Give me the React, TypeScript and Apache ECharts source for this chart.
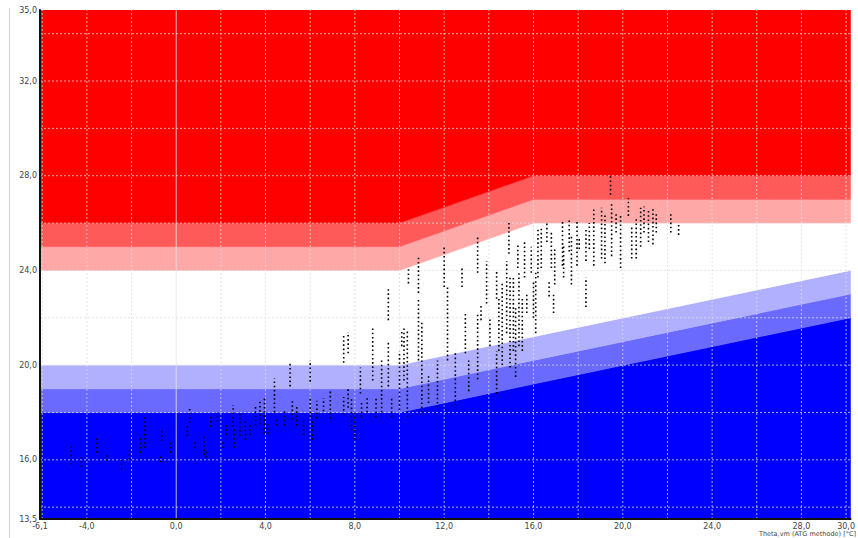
import React, { useEffect, useRef } from 'react';
import * as echarts from 'echarts';

const X_MIN = -6.1;
const X_MAX = 30.2;
const Y_MIN = 13.5;
const Y_MAX = 35;

const xLabelValues = [-6.1, -4, 0, 4, 8, 12, 16, 20, 24, 28, 30];
const yLabelValues = [13.5, 16, 20, 24, 28, 32, 35];
const xGridValues = [-6, -4, -2, 0, 2, 4, 6, 8, 10, 12, 14, 16, 18, 20, 22, 24, 26, 28, 30];
const yGridValues = [14, 16, 18, 20, 22, 24, 26, 28, 30, 32, 34];

const axisTitle = 'Theta,vm (ATG methode) [°C]';

// breakpoints of the comfort bands along x
const bandBreaksX = [-6.1, 10, 16, 30.2];
// edges of bands (bottom to top), y value at each breakpoint
const edgeBottom = [13.5, 13.5, 13.5, 13.5];
const edgeBlue1 = [18, 18, 19.2, 22];
const edgeBlue2 = [19, 19, 20.2, 23];
const edgeBlue3 = [20, 20, 21.2, 24];
const edgeRed1 = [24, 24, 26, 26];
const edgeRed2 = [25, 25, 27, 27];
const edgeRed3 = [26, 26, 28, 28];
const edgeTop = [35, 35, 35, 35];
const bandEdges = [edgeBottom, edgeBlue1, edgeBlue2, edgeBlue3, edgeRed1, edgeRed2, edgeRed3, edgeTop];
const bandColors = ['#0000ff', '#6a6aff', '#b0b0ff', '#ffffff', '#ffa8a8', '#ff5a5a', '#ff0000'];

// measured point strips: [x, yLow, yHigh]
const strips: number[][] = [
  [-4.7, 15.8, 16.7], [-4.25, 15.7, 16.2], [-3.55, 16.3, 16.9], [-3.1, 15.95, 16.3],
  [-2.45, 15.6, 16.0], [-2.1, 16.0, 16.4], [-1.6, 16.3, 16.9], [-1.4, 16.5, 17.8],
  [-0.7, 15.9, 16.2], [-0.65, 16.8, 17.3], [-0.25, 16.3, 16.8], [0.5, 17.0, 17.5],
  [0.6, 17.55, 18.2], [0.85, 16.5, 16.8], [1.25, 16.2, 17.0], [1.35, 16.1, 16.4],
  [1.55, 17.4, 17.9], [1.85, 17.6, 18.0], [2.1, 16.5, 16.75], [2.25, 17.05, 17.5],
  [2.55, 17.4, 18.3], [2.6, 16.5, 17.3], [2.85, 17.0, 18.0], [3.1, 16.85, 17.65],
  [3.3, 17.05, 17.55], [3.55, 17.45, 18.3], [3.75, 17.5, 18.45], [3.95, 17.1, 18.6],
  [4.1, 17.1, 17.5], [4.4, 18.0, 19.45], [4.5, 17.45, 17.7], [4.85, 17.45, 18.05],
  [5.1, 19.1, 20.1], [5.2, 17.7, 18.5], [5.4, 17.45, 18.3], [5.7, 17.05, 17.7],
  [6.0, 19.3, 20.2], [6.0, 17.8, 18.65], [6.1, 16.85, 17.7], [6.3, 17.75, 18.5],
  [6.6, 18.05, 18.6], [6.9, 17.75, 18.9], [7.5, 20.1, 21.35], [7.5, 17.9, 18.65],
  [7.7, 20.5, 21.4], [7.7, 18.2, 19.05], [7.85, 17.25, 18.65], [8.0, 16.85, 18.0],
  [8.25, 18.8, 19.9], [8.3, 17.8, 18.5], [8.55, 18.0, 18.6], [8.8, 19.35, 21.6],
  [8.95, 17.8, 18.65], [9.2, 18.0, 20.2], [9.5, 19.1, 21.05], [9.5, 21.9, 23.3],
  [9.65, 17.8, 18.65], [10.0, 18.1, 20.6], [10.1, 20.8, 21.5], [10.2, 19.35, 21.6],
  [10.35, 17.8, 21.5], [10.4, 23.45, 24.1], [10.85, 23.05, 24.55], [10.85, 20.2, 22.75],
  [11.0, 18.0, 21.9], [11.3, 18.4, 19.6], [11.7, 18.2, 20.2], [12.0, 23.3, 25.0],
  [12.15, 20.2, 23.3], [12.5, 18.3, 20.5], [12.8, 23.3, 24.1], [12.95, 20.5, 22.2],
  [13.1, 18.9, 20.2], [13.5, 23.9, 25.4], [13.5, 19.4, 22.2], [13.65, 21.9, 22.6],
  [13.9, 22.6, 24.4], [14.05, 20.8, 22.0], [14.35, 18.8, 20.6], [14.35, 22.8, 24.0],
  [14.45, 20.6, 22.8], [14.6, 20.0, 23.5], [14.8, 21.35, 24.4], [14.9, 24.7, 26.0],
  [14.95, 19.9, 23.8], [15.1, 20.6, 23.7], [15.2, 19.5, 22.5], [15.3, 24.1, 25.15],
  [15.35, 20.8, 23.9], [15.5, 20.6, 22.8], [15.6, 23.7, 25.3], [15.7, 22.2, 23.0],
  [15.9, 23.9, 25.0], [16.0, 22.0, 23.5], [16.1, 21.35, 23.9], [16.2, 23.7, 25.8],
  [16.35, 24.1, 25.8], [16.6, 25.2, 26.05], [16.7, 22.9, 23.6], [16.8, 24.1, 25.7],
  [16.9, 22.2, 23.0], [16.95, 23.4, 25.0], [17.3, 24.2, 26.05], [17.35, 23.7, 25.1],
  [17.6, 24.8, 26.2], [17.7, 23.4, 25.5], [17.95, 24.2, 26.05], [18.05, 24.9, 25.4],
  [18.35, 22.45, 23.7], [18.35, 24.4, 25.8], [18.5, 24.9, 26.0], [18.7, 24.2, 26.65],
  [19.05, 24.5, 26.65], [19.2, 24.3, 26.4], [19.45, 27.2, 28.0], [19.5, 24.6, 26.8],
  [19.7, 25.6, 26.4], [19.9, 24.1, 26.3], [20.25, 26.3, 27.05], [20.4, 24.5, 25.9],
  [20.6, 24.5, 26.25], [20.8, 25.0, 26.65], [20.95, 25.6, 26.7], [21.15, 25.2, 26.6],
  [21.35, 25.1, 26.6], [21.5, 25.6, 26.4], [22.15, 25.6, 26.4], [22.5, 25.5, 26.0],
];

const fmt = (v: number) => v.toFixed(1).replace('.', ',');

export default function App() {
  const ref = useRef<HTMLDivElement>(null);
  useEffect(() => {
    if (!ref.current) return;
    const chart = echarts.init(ref.current, undefined, { renderer: 'svg' });
    const gridData = [
      ...xGridValues.map((v) => [0, v]),
      ...yGridValues.map((v) => [1, v]),
    ];
    const labelStyle = {
      fontFamily: 'DejaVu Sans',
      fontSize: 8,
      color: '#444',
    };
    chart.setOption({
      animation: false,
      backgroundColor: '#ffffff',
      grid: { left: 40, right: 0, top: 10, bottom: 19 },
      xAxis: {
        type: 'value',
        min: X_MIN,
        max: X_MAX,
        axisLine: { show: true, onZero: false, lineStyle: { color: '#111', width: 2 } },
        axisTick: { show: false },
        splitLine: { show: false },
        axisLabel: {
          ...labelStyle,
          margin: 3,
          customValues: xLabelValues,
          formatter: (v: number) => fmt(v),
          showMinLabel: true,
          showMaxLabel: true,
        },
        z: 4,
      },
      yAxis: {
        type: 'value',
        min: Y_MIN,
        max: Y_MAX,
        axisLine: { show: true, onZero: false, lineStyle: { color: '#111', width: 2 } },
        axisTick: { show: false },
        splitLine: { show: false },
        axisLabel: {
          ...labelStyle,
          margin: 3,
          customValues: yLabelValues,
          formatter: (v: number) => fmt(v),
          showMinLabel: true,
          showMaxLabel: true,
        },
        z: 4,
      },
      graphic: [
        {
          type: 'line',
          shape: { x1: 9.5, y1: 8, x2: 9.5, y2: 538 },
          style: { stroke: '#cfd4dc', lineWidth: 1 },
          silent: true,
        },
        {
          type: 'text',
          right: 2,
          top: 530,
          style: {
            text: axisTitle,
            fontFamily: 'DejaVu Sans',
            fontSize: 6.5,
            fill: '#444',
          },
          silent: true,
        },
      ],
      series: [
        {
          type: 'custom',
          name: 'bands',
          z: 1,
          silent: true,
          clip: true,
          data: bandColors.map((_, i) => [i]),
          renderItem: (params: any, api: any) => {
            const i = api.value(0);
            const lower = bandEdges[i];
            const upper = bandEdges[i + 1];
            const pts: number[][] = [];
            for (let k = 0; k < bandBreaksX.length; k++) pts.push(api.coord([bandBreaksX[k], lower[k]]));
            for (let k = bandBreaksX.length - 1; k >= 0; k--) pts.push(api.coord([bandBreaksX[k], upper[k]]));
            return {
              type: 'polygon',
              shape: { points: pts },
              style: { fill: bandColors[i], stroke: bandColors[i], lineWidth: 0.5 },
            };
          },
        },
        {
          type: 'custom',
          name: 'gridlines',
          z: 2,
          silent: true,
          clip: true,
          data: gridData,
          renderItem: (params: any, api: any) => {
            const o = api.value(0);
            const v = api.value(1);
            const p1 = o === 0 ? api.coord([v, Y_MIN]) : api.coord([X_MIN, v]);
            const p2 = o === 0 ? api.coord([v, Y_MAX]) : api.coord([X_MAX, v]);
            const solid = o === 0 && v === 0;
            return {
              type: 'line',
              shape: { x1: p1[0], y1: p1[1], x2: p2[0], y2: p2[1] },
              style: {
                stroke: solid ? '#e4e4ec' : '#dcdcdc',
                lineWidth: 1,
                lineDash: solid ? null : [2, 2],
                opacity: solid ? 0.8 : 0.75,
              },
            };
          },
        },
        {
          type: 'custom',
          name: 'Theta',
          z: 5,
          silent: true,
          clip: true,
          data: strips,
          renderItem: (params: any, api: any) => {
            const p1 = api.coord([api.value(0), api.value(1)]);
            const p2 = api.coord([api.value(0), api.value(2)]);
            return {
              type: 'line',
              shape: { x1: p1[0], y1: p1[1], x2: p2[0], y2: p2[1] },
              style: { stroke: '#000000', lineWidth: 1.6, lineDash: [1.6, 2.6] },
            };
          },
        },
      ],
    });
    return () => chart.dispose();
  }, []);
  return (
    <div
      ref={ref}
      style={{ position: 'fixed', left: 0, top: 0, width: 858, height: 538, background: '#fff' }}
    />
  );
}
